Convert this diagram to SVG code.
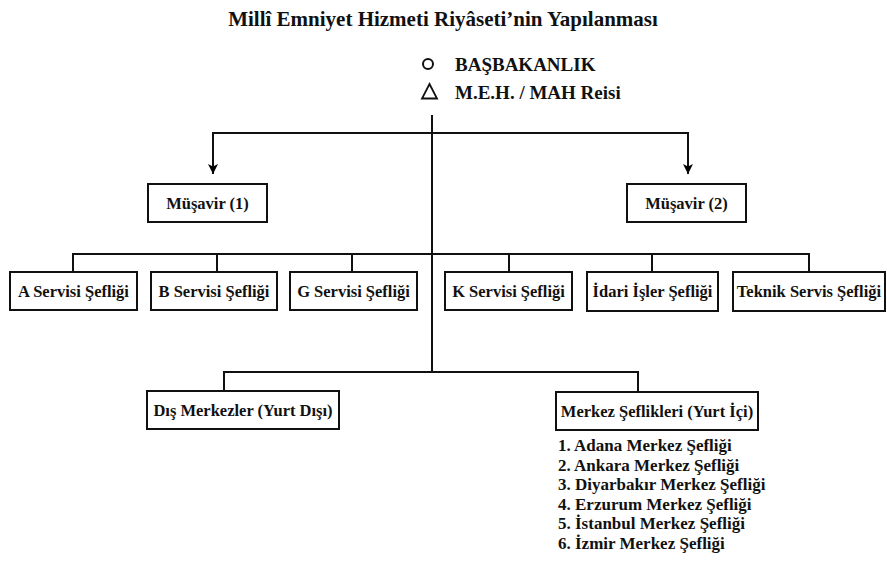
<svg xmlns="http://www.w3.org/2000/svg" width="887" height="563" viewBox="0 0 887 563">
<defs>
<marker id="arr" viewBox="0 0 10 10" refX="10" refY="5" markerWidth="10" markerHeight="10" markerUnits="userSpaceOnUse" orient="auto">
<path d="M0,0 L10,5 L0,10 L2.5,5 Z" fill="#000"/>
</marker>
<style>
text{font-family:"Liberation Serif","DejaVu Serif",serif;font-weight:bold;fill:#111}
.t{font-size:21px}
.h{font-size:19px}
.b{font-size:16.5px}
.l{font-size:17px}
rect{fill:#fff;stroke:#111;stroke-width:2}
.c line,.c path{stroke:#111;stroke-width:2;fill:none}
</style>
</defs>
<rect x="0" y="0" width="887" height="563" style="stroke:none;fill:#fff"/>
<text class="t" x="443" y="26" text-anchor="middle">Millî Emniyet Hizmeti Riyâseti’nin Yapılanması</text>
<g id="basbakanlik">
<circle cx="428" cy="64" r="5" fill="none" stroke="#111" stroke-width="2"/>
<text class="h" x="455" y="71">BAŞBAKANLIK</text>
</g>
<g id="reis">
<path d="M429.5,84 L437,98.5 L422,98.5 Z" fill="none" stroke="#111" stroke-width="1.8"/>
<text class="h" x="455" y="99">M.E.H. / MAH Reisi</text>
</g>
<g class="c" id="connectors">
<line x1="432" y1="115" x2="432" y2="372"/>
<path d="M432,133 H213 V174" marker-end="url(#arr)"/>
<path d="M432,133 H688 V174" marker-end="url(#arr)"/>
<path d="M73,272 V254 H809 V272"/>
<line x1="217" y1="254" x2="217" y2="272"/>
<line x1="352" y1="254" x2="352" y2="272"/>
<line x1="509" y1="254" x2="509" y2="272"/>
<line x1="652" y1="254" x2="652" y2="272"/>
<path d="M224,391 V372 H638 V392"/>
</g>
<g id="musavir1"><rect x="148" y="184" width="119" height="38"/><text class="b" x="207.5" y="209" text-anchor="middle">Müşavir (1)</text></g>
<g id="musavir2"><rect x="627" y="184" width="119" height="38"/><text class="b" x="686.5" y="209" text-anchor="middle">Müşavir (2)</text></g>
<g id="a"><rect x="10" y="272" width="127" height="38"/><text class="b" x="73.5" y="297" text-anchor="middle">A Servisi Şefliği</text></g>
<g id="b"><rect x="151" y="272" width="126" height="38"/><text class="b" x="214" y="297" text-anchor="middle">B Servisi Şefliği</text></g>
<g id="g"><rect x="290" y="272" width="127" height="38"/><text class="b" x="353.5" y="297" text-anchor="middle">G Servisi Şefliği</text></g>
<g id="k"><rect x="445" y="272" width="127" height="38"/><text class="b" x="508.5" y="297" text-anchor="middle">K Servisi Şefliği</text></g>
<g id="idari"><rect x="587" y="272" width="131" height="39"/><text class="b" x="652.5" y="297" text-anchor="middle">İdari İşler Şefliği</text></g>
<g id="teknik"><rect x="733" y="272" width="152" height="39"/><text class="b" x="809" y="297" text-anchor="middle">Teknik Servis Şefliği</text></g>
<g id="dis"><rect x="147" y="391" width="192" height="38"/><text class="b" x="243" y="416" text-anchor="middle">Dış Merkezler (Yurt Dışı)</text></g>
<g id="merkez"><rect x="556" y="392" width="202" height="38"/><text class="b" x="657" y="417" text-anchor="middle">Merkez Şeflikleri (Yurt İçi)</text></g>
<g id="liste">
<text class="l" x="558" y="451">1. Adana Merkez Şefliği</text>
<text class="l" x="558" y="470.5">2. Ankara Merkez Şefliği</text>
<text class="l" x="558" y="490">3. Diyarbakır Merkez Şefliği</text>
<text class="l" x="558" y="509.5">4. Erzurum  Merkez Şefliği</text>
<text class="l" x="558" y="529">5. İstanbul  Merkez Şefliği</text>
<text class="l" x="558" y="548.5">6. İzmir Merkez Şefliği</text>
</g>
</svg>
